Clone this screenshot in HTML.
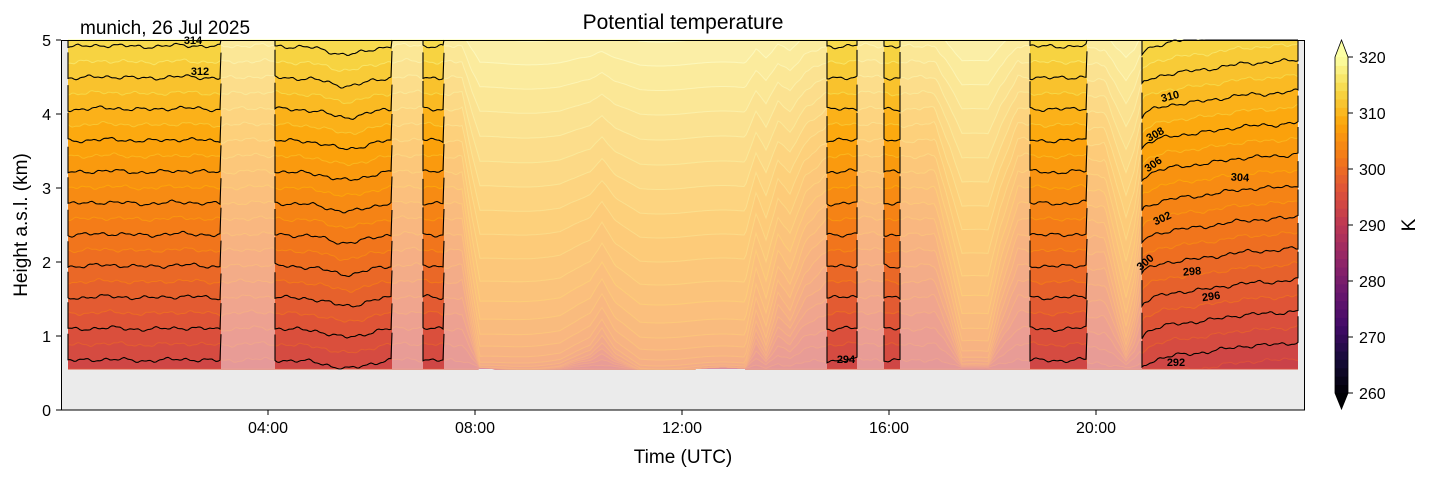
<!DOCTYPE html>
<html><head><meta charset="utf-8"><style>
body{margin:0;background:#fff;}
svg text{font-family:"Liberation Sans","DejaVu Sans",sans-serif;}
</style></head><body>
<svg id="s" width="1429" height="478" xmlns="http://www.w3.org/2000/svg"></svg>
<script>
const S=document.getElementById('s');let h='';
const stops=[[0,0,0,4],[.1,22,11,57],[.2,66,10,104],[.3,106,23,110],[.4,147,38,103],[.5,188,55,84],[.6,221,81,58],[.7,243,120,25],[.8,252,165,10],[.9,246,215,70],[1,252,255,164]];
function inf(t){t=Math.max(0,Math.min(1,t));for(let i=0;i<stops.length-1;i++){const a=stops[i],b=stops[i+1];if(t<=b[0]){const f=(t-a[0])/(b[0]-a[0]);return 'rgb('+[1,2,3].map(k=>Math.round(a[k]+(b[k]-a[k])*f)).join(',')+')';}}return 'rgb(252,255,164)';}
function col(T){return inf((T-260)/60);}
function interp(pts,x){if(x<=pts[0][0])return pts[0][1];for(let i=0;i<pts.length-1;i++){if(x<=pts[i+1][0]){const f=(x-pts[i][0])/(pts[i+1][0]-pts[i][0]);return pts[i][1]+(pts[i+1][1]-pts[i][1])*f;}}return pts[pts.length-1][1];}
const W=[[68,0],[462,0],[472,0.6],[480,1],[560,0.95],[590,0.82],[602,0.65],[615,0.85],[640,1],[745,1],[756,0.55],[766,0.8],[778,0.4],[790,0.55],[805,0.2],[827,0],[935,0],[950,0.5],[962,0.95],[988,0.95],[1000,0.5],[1018,0],[1105,0],[1118,0.5],[1126,0.8],[1134,0.5],[1142,0],[1298,0]];
const DAY=[[289,369],[298,369],[299,367],[300,364],[301,358],[302,348],[303,336],[304,321],[305,303],[306,283],[307,260],[309,212],[311,163],[313,113],[315,64],[316,40],[320,-50]];
function night(T){return 360-(T-294)*15.7;}
function off(x){let o=0;o+=9*Math.exp(-Math.pow((x-345)/25,2));if(x>=1142){const f=(x-1142)/156;o+=8-26*Math.sqrt(f);}if(x>1087&&x<1142)o+=4;return o;}
function noise(x,T){return 1.1*Math.sin(x*0.31+T*1.7)+0.9*Math.sin(x*0.137+T*0.6)+0.7*Math.sin(x*0.083+2.1)+0.6*Math.sin(x*0.71+T);}
function yT(T,x){const w=interp(W,x);const n=night(T)+off(x)+noise(x,T);const d=interp(DAY,T)+2*Math.sin(x*0.05);let y=n*(1-w)+d*w;return Math.max(40,Math.min(369,y));}
h+='<rect x="61" y="40" width="1244" height="370" fill="#ebebeb"/>';
h+='<rect x="68" y="40" width="1230" height="329" fill="'+col(289.5)+'"/>';
let lines='';
for(let T=289;T<=321;T++){let p='M68,40';let l='';for(let x=68;x<=1298;x+=2){const y=yT(T,x).toFixed(1);p+=' L'+x+','+y;l+=(x==68?'M':'L')+x+','+y+' ';}p+=' L1298,40Z';h+='<path d="'+p+'" fill="'+col(T+0.5)+'"/>';lines+='<path d="'+l+'" fill="none" stroke="'+col(T+3)+'" stroke-width="1"/>';}
h+=lines;
const faded=[[221,275],[392,423],[444,827],[857,884],[900,1030],[1087,1142]];
faded.forEach(f=>{h+='<rect x="'+f[0]+'" y="40" width="'+(f[1]-f[0])+'" height="329" fill="#fff" fill-opacity="0.45"/>';});
const opq=[[68,221],[275,392],[423,444],[827,857],[884,900],[1030,1087],[1142,1298]];
opq.forEach(s=>{for(let T=294;T<=316;T+=2){let l='';let y0=null,y1=null;for(let x=s[0];x<=s[1];x+=2){const y=yT(T,x);if(x==s[0])y0=y;y1=y;l+=(x==s[0]?'M':'L')+x+','+y.toFixed(1)+' ';}
if(y0<=40)continue;l='M'+s[0]+','+Math.max(40,y0-26).toFixed(1)+' '+l.replace(/^M/,'L')+' L'+s[1]+','+Math.max(40,y1-26).toFixed(1);h+='<path d="'+l+'" fill="none" stroke="#000" stroke-width="1.1"/>';}});
const labs=[['314',193,44,0],['312',200,75,0],['294',846,363,0],['292',1176,366,0],['296',1211,300,-8],['298',1192,275,-5],['300',1145,266,-40],['302',1162,222,-25],['304',1240,181,3],['306',1153,168,-35],['308',1155,138,-30],['310',1170,100,-15]];
labs.forEach(l=>{h+='<text x="'+l[1]+'" y="'+l[2]+'" font-size="11" font-weight="bold" text-anchor="middle" transform="rotate('+l[3]+' '+l[1]+' '+(l[2]-4)+')">'+l[0]+'</text>';});
h+='<rect x="61.5" y="40.5" width="1243" height="369.5" fill="none" stroke="#000" stroke-width="1"/>';
[['04:00',268],['08:00',475],['12:00',682],['16:00',889],['20:00',1096]].forEach(t=>{h+='<line x1="'+t[1]+'" y1="410" x2="'+t[1]+'" y2="415" stroke="#000"/><text x="'+t[1]+'" y="433" font-size="16" text-anchor="middle">'+t[0]+'</text>';});
for(let k=0;k<=5;k++){const y=410-k*74;h+='<line x1="56" y1="'+y+'" x2="61" y2="'+y+'" stroke="#000"/><text x="51" y="'+(y+6)+'" font-size="16" text-anchor="end">'+k+'</text>';}
h+='<text x="683" y="463" font-size="19" text-anchor="middle">Time (UTC)</text>';
h+='<text transform="translate(27,225) rotate(-90)" font-size="19" text-anchor="middle">Height a.s.l. (km)</text>';
h+='<text x="683" y="29" font-size="21" text-anchor="middle">Potential temperature</text>';
h+='<text x="80" y="34" font-size="19">munich, 26 Jul 2025</text>';
const cx=1335,cw=13,ct=57,cb=393;const n=40;for(let i=0;i<n;i++){const T=260+(i+0.5)*1.5;const y=cb-(i+1)*(cb-ct)/n;h+='<rect x="'+cx+'" y="'+y.toFixed(2)+'" width="'+cw+'" height="'+((cb-ct)/n+0.5).toFixed(2)+'" fill="'+col(T)+'"/>';}
h+='<polygon points="'+cx+','+ct+' '+(cx+cw/2)+',40 '+(cx+cw)+','+ct+'" fill="'+col(321)+'"/>';
h+='<polygon points="'+cx+','+cb+' '+(cx+cw/2)+',409 '+(cx+cw)+','+cb+'" fill="#000004"/>';
h+='<polygon points="'+cx+','+ct+' '+(cx+cw/2)+',40 '+(cx+cw)+','+ct+' '+(cx+cw)+','+cb+' '+(cx+cw/2)+',409 '+cx+','+cb+'" fill="none" stroke="#000" stroke-width="0.8"/>';
for(let k=0;k<=6;k++){const y=cb-k*(cb-ct)/6;h+='<line x1="'+(cx+cw)+'" y1="'+y+'" x2="'+(cx+cw+5)+'" y2="'+y+'" stroke="#000"/><text x="1359" y="'+(y+6)+'" font-size="16">'+(260+k*10)+'</text>';}
h+='<text transform="translate(1415,225) rotate(-90)" font-size="19" text-anchor="middle">K</text>';
S.innerHTML=h;
</script>
</body></html>
